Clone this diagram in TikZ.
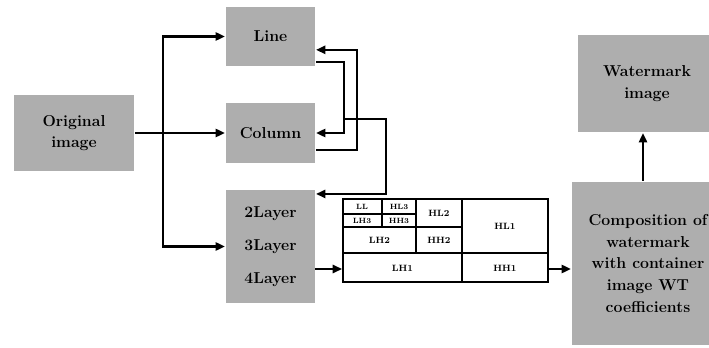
\documentclass[tikz,border=0pt]{standalone}
\usetikzlibrary{positioning,arrows.meta}

\definecolor{boxgray}{RGB}{174,174,174}

\begin{document}
\begin{tikzpicture}[
    x=0.03cm,y=-0.03cm,
    >={Triangle[length=8pt,width=7pt]},
    line width=1.8pt,
    box/.style={fill=boxgray,align=center,inner sep=0pt,
        font=\fontsize{13.5}{18.5}\selectfont\bfseries},
    cell/.style={inner sep=0pt,font=\fontsize{7.8}{8}\selectfont\bfseries},
    tiny/.style={inner sep=0pt,font=\fontsize{6.5}{7}\selectfont\bfseries}
]
\clip (0,0) rectangle (709,348);

\node[box,minimum width=3.6cm,minimum height=2.25cm] (orig) at (74,133) {Original\\image};
\node[box,minimum width=2.67cm,minimum height=1.77cm] (line) at (270.5,36.5) {Line};
\node[box,minimum width=2.67cm,minimum height=1.8cm] (column) at (270.5,133) {Column};
\node[box,minimum width=2.67cm,minimum height=3.39cm,
    font=\fontsize{13.5}{28}\selectfont\bfseries] (layer) at (270.5,246.5) {2Layer\\3Layer\\4Layer};
\node[box,minimum width=4.14cm,minimum height=2.91cm] (water) at (647,83.5) {Watermark\\image};
\node[box,minimum width=4.56cm,minimum height=4.89cm] (comp) at (648,263.5)
    {Composition of\\watermark\\with container\\image WT\\coefficients};

% wavelet table
\node[draw,line width=1.6pt,minimum width=6.15cm,minimum height=2.49cm,inner sep=0pt] (wt) at (445.5,240.5) {};
\draw[line width=1.3pt] (343,253) -- (548,253);
\draw[line width=1.3pt] (462,199) -- (462,282);
\draw[line width=1.3pt] (416,199) -- (416,253);
\draw[line width=1.3pt] (343,227) -- (462,227);
\draw[line width=1.3pt] (382,199) -- (382,227);
\draw[line width=1.3pt] (343,214) -- (416,214);

\node[tiny] (ll) at (362,206.5) {LL};
\node[tiny] (hl3) at (399,206.5) {HL3};
\node[tiny] (lh3) at (362,220.5) {LH3};
\node[tiny] (hh3) at (399,220.5) {HH3};
\node[cell] (hl2) at (439,213) {HL2};
\node[cell] (lh2) at (379.5,240) {LH2};
\node[cell] (hh2) at (439,240) {HH2};
\node[cell] (hl1) at (505,226) {HL1};
\node[cell] (lh1) at (402.5,268) {LH1};
\node[cell] (hh1) at (505,268) {HH1};

% splitting of the original image
\coordinate (split) at (163,133);
\draw[->] (orig) -- (column);
\draw[->] (split) |- (line);
\draw[->] (split) |- (layer);

% feedback loops
\draw[->]
([yshift=0.15cm]line.south east) -- ++(28,0)
|- (column);

\draw[->]
([yshift=0.42cm]column.south east) -- ++(41,0)
|- ([yshift=-0.4cm]line.east);

\coordinate (branch) at (343,119);
\draw[->]
(branch) -- (386,119)
|- ([yshift=-0.15cm]layer.north east);

% to composition
\coordinate (l4) at (315,269);
\draw[->] (l4) -- (l4 -| wt.west);
\draw[->] (l4 -| wt.east) -- (l4 -| comp.west);
\draw[->] (comp.north -| 643,0) -- (water.south -| 643,0);

\end{tikzpicture}
\end{document}
